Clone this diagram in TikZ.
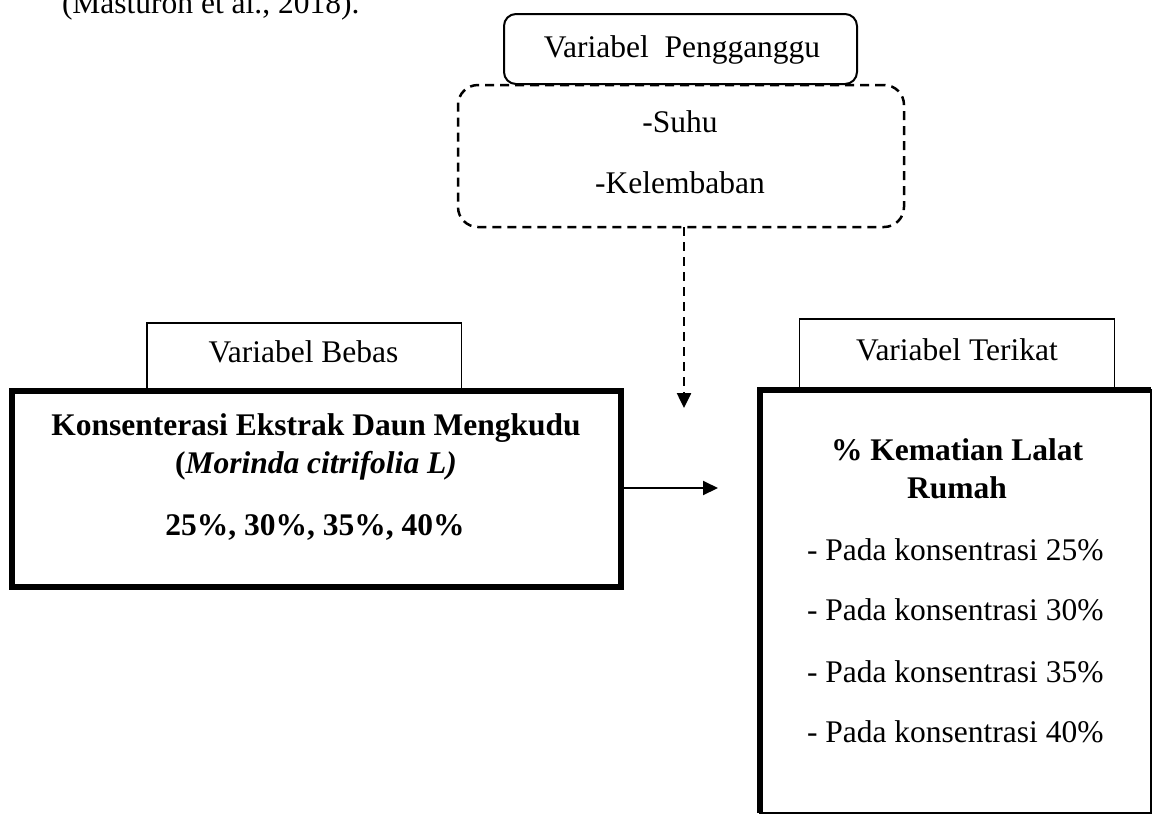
\documentclass[tikz,border=0pt]{standalone}
\usepackage{fontspec}
\setmainfont{Liberation Serif}
\usetikzlibrary{arrows.meta}
\begin{document}
\begin{tikzpicture}[x=1pt,y=-1pt,
  every node/.style={font=\fontsize{31.5}{38}\selectfont, inner sep=0pt, outer sep=0pt},
  txt/.style={anchor=base},
  thinbox/.style={draw, line width=1.5pt, fill=white},
  thickbox/.style={draw, line width=6pt, fill=white},
  dashbox/.style={draw, line width=2.5pt, dash pattern=on 9pt off 6pt, rounded corners=20pt},
  roundbox/.style={draw, line width=2pt, fill=white, rounded corners=12pt},
  solidarrow/.style={line width=2pt, -{Triangle[length=15pt,width=14pt]}},
  dasharrow/.style={line width=2.5pt, dash pattern=on 9pt off 6pt, -{Triangle[length=15pt,width=14pt]}}
]
\useasboundingbox (0,0) rectangle (1154,815);

% citation line (cut at the top)
\node[anchor=base west] (cite) at (62,13) {(Masturoh et al., 2018).};

% confounding variables
\node[dashbox, minimum width=446pt, minimum height=142pt] (dbox) at (681,156) {};
\node[roundbox, minimum width=353pt, minimum height=70pt] (topbox) at (680.5,49) {};
\node[txt] (toptxt) at (682,57) {Variabel\ \ Pengganggu};
\node[txt] (suhu) at (680,132) {-Suhu};
\node[txt] (lemb) at (680,193) {-Kelembaban};

% label boxes
\node[thinbox, minimum width=314.5pt, minimum height=68pt] (bebaslbl) at (304,357) {};
\node[txt] (bebastxt) at (303.5,362) {Variabel Bebas};
\node[thinbox, minimum width=315pt, minimum height=71pt] (terikatlbl) at (957,354.5) {};
\node[txt] (terikattxt) at (957,360) {Variabel Terikat};

% left main box
\node[thickbox, minimum width=609pt, minimum height=196pt] (lbox) at (316.5,489) {};
\node[txt] (l1) at (316,435) {\bfseries Konsenterasi Ekstrak Daun Mengkudu};
\node[txt] (l2) at (316,473) {\bfseries (\textit{Morinda citrifolia L)}};
\node[txt] (l3) at (315,535) {\bfseries 25\%, 30\%, 35\%, 40\%};

% right main box
\node[thinbox, minimum width=391pt, minimum height=423pt] (rbox) at (955.5,601.5) {};
\draw[line width=6pt, line join=miter] (rbox.south west) -- (rbox.north west) -- (rbox.north east);
\node[txt] (r1) at (957,460) {\bfseries \% Kematian Lalat};
\node[txt] (r2) at (957,498) {\bfseries Rumah};
\node[anchor=base west] (i1) at (807,560) {- Pada konsentrasi 25\%};
\node[anchor=base west] (i2) at (807,620) {- Pada konsentrasi 30\%};
\node[anchor=base west] (i3) at (807,682) {- Pada konsentrasi 35\%};
\node[anchor=base west] (i4) at (807,742) {- Pada konsentrasi 40\%};

% connectors
\coordinate (harrowend) at (718,488);
\draw[solidarrow] (lbox.east |- harrowend) -- (harrowend);
\coordinate (varrowend) at (684,408);
\draw[dasharrow] (dbox.south -| varrowend) -- (varrowend);
\end{tikzpicture}
\end{document}
